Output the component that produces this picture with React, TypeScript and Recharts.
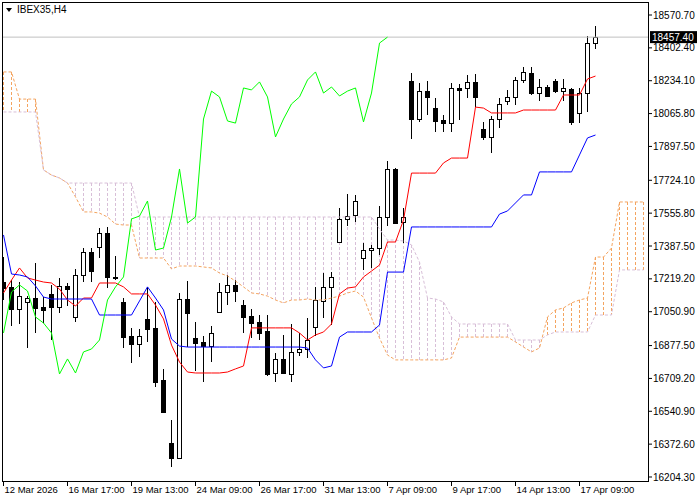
import { ComposedChart, Bar, Line, XAxis, YAxis, ReferenceLine } from 'recharts';

const FONT = '"Liberation Sans", Arial, sans-serif';
const SANDY = '#F4A460';
const THISTLE = '#D8BFD8';

// x axis labels, one every 8 bars
const dateLabels = [
  '12 Mar 2026', '16 Mar 17:00', '19 Mar 13:00', '24 Mar 09:00', '26 Mar 17:00',
  '31 Mar 13:00', '7 Apr 09:00', '9 Apr 17:00', '14 Apr 13:00', '17 Apr 09:00',
];
const dateTicks = [0, 8, 16, 24, 32, 40, 48, 56, 64, 72];

const priceTicks = [
  18570.7, 18402.4, 18234.1, 18065.8, 17897.5, 17724.1, 17555.8, 17387.5,
  17219.2, 17050.9, 16877.5, 16709.2, 16540.9, 16372.6, 16204.3,
];
const lastPrice = 18457.4;

// H4 candles
const opens = [
  17203, 17178, 17065, 17101, 17121, 17075, 17142, 17075, 17183, 17024,
  17239, 17357, 17382, 17454, 17229, 17101, 16927, 16886, 17014, 16968,
  16701, 16378, 16302, 17116, 16916, 16896, 16875, 17049, 17152, 17188,
  17085, 17029, 16998, 16952, 16737, 16809, 16732, 16845, 16860, 16973,
  17106, 17178, 17408, 17526, 17546, 17326, 17367, 17377, 17536, 17782,
  17510, 18233, 18038, 18181, 18094, 18033, 18017, 18197, 18197, 18228,
  17987, 17946, 18038, 18130, 18151, 18238, 18274, 18171, 18202, 18233,
  18181, 18192, 18069, 18171, 18427,
];
const highs = [
  17331, 17213, 17203, 17131, 17300, 17126, 17188, 17224, 17198, 17270,
  17377, 17377, 17480, 17485, 17336, 17121, 16968, 16962, 17178, 17101,
  16758, 16496, 17147, 17208, 16998, 16927, 16978, 17198, 17239, 17213,
  17111, 17065, 17034, 17034, 16839, 16932, 16988, 16942, 17019, 17178,
  17249, 17254, 17582, 17654, 17649, 17403, 17393, 17592, 17823, 17787,
  17582, 18274, 18222, 18233, 18146, 18058, 18222, 18217, 18263, 18268,
  18023, 18053, 18146, 18187, 18253, 18304, 18304, 18243, 18212, 18243,
  18243, 18197, 18197, 18463, 18514,
];
const lows = [
  17111, 16978, 16988, 16865, 16942, 16993, 16906, 17044, 17080, 16998,
  17203, 17203, 17326, 17172, 17213, 16865, 16788, 16819, 16896, 16665,
  16532, 16256, 16296, 16870, 16747, 16691, 16793, 17049, 17085, 17101,
  16942, 16916, 16906, 16722, 16691, 16732, 16691, 16824, 16814, 16927,
  17019, 16983, 17408, 17490, 17510, 17265, 17275, 17341, 17490, 17505,
  17403, 17936, 18023, 18058, 17971, 17971, 17971, 18033, 18146, 18099,
  17930, 17864, 17992, 18110, 18110, 18222, 18161, 18130, 18151, 18171,
  18130, 18007, 18017, 18074, 18397,
];
const closes = [
  17172, 17065, 17131, 17121, 17070, 17060, 17075, 17183, 17167, 17239,
  17357, 17259, 17454, 17229, 17225, 16921, 16886, 16927, 16962, 16691,
  16537, 16302, 17116, 17044, 16891, 16875, 16942, 17152, 17188, 17157,
  17024, 16993, 16942, 16732, 16809, 16737, 16845, 16860, 16906, 17111,
  17178, 17229, 17526, 17541, 17618, 17367, 17377, 17536, 17782, 17505,
  17536, 18038, 18181, 18151, 18028, 18017, 18197, 18187, 18228, 18151,
  17946, 18038, 18115, 18151, 18238, 18279, 18171, 18202, 18156, 18181,
  18197, 18023, 18171, 18427, 18457.4,
];

// Ichimoku lines
const tenkan = [
  17147, 17213, 17275, 17224, 17213, 17203, 17198, 17167, 17111, 17080,
  17121, 17121, 17198, 17198, 17198, 17178, 17142, 17142, 17142, 17085,
  17014, 16880, 16793, 16742, 16737, 16737, 16737, 16737, 16742, 16758,
  16773, 16968, 16968, 16968, 16968, 16968, 16968, 16942, 16906, 16932,
  16947, 16988, 17142, 17172, 17178, 17229, 17259, 17290, 17408, 17408,
  17521, 17761, 17761, 17761, 17761, 17813, 17838, 17838, 17838, 18099,
  18094, 18069, 18069, 18069, 18069, 18084, 18084, 18084, 18084, 18084,
  18161, 18161, 18161, 18243, 18258,
];
const kijun = [
  17444, 17244, 17239, 17229, 17183, 17126, 17116, 17116, 17116, 17116,
  17116, 17116, 17034, 17034, 17034, 17034, 17034, 17106, 17178, 17121,
  17060, 16911, 16875, 16870, 16870, 16870, 16870, 16870, 16870, 16870,
  16870, 16870, 16870, 16870, 16870, 16870, 16870, 16870, 16865, 16804,
  16763, 16773, 16921, 16947, 16947, 16947, 16947, 16983, 17254, 17254,
  17254, 17485, 17485, 17485, 17485, 17485, 17485, 17485, 17485, 17485,
  17485, 17485, 17551, 17567, 17608, 17649, 17649, 17767, 17767, 17767,
  17767, 17767, 17854, 17941, 17956,
];
const spanA = [
  18279, 18279, 18140, 18140, 18140, 17777, 17751, 17736, 17710, 17639,
  17562, 17562, 17556, 17536, 17500, 17495, 17495, 17326, 17326, 17326,
  17326, 17270, 17285, 17285, 17285, 17280, 17275, 17249, 17234, 17208,
  17178, 17147, 17142, 17131, 17111, 17096, 17111, 17111, 17116, 17111,
  17111, 17121, 17131, 17147, 17157, 17126, 17019, 16916, 16829, 16804,
  16804, 16804, 16804, 16804, 16804, 16804, 16814, 16921, 16921, 16921,
  16921, 16921, 16921, 16921, 16896, 16870, 16845, 16865, 17024, 17060,
  17070, 17096, 17111, 17121, 17331, 17331, 17377, 17613, 17613, 17613,
  17613,
];
const spanB = [
  18074, 18074, 18074, 18074, 18074, 17777, 17751, 17736, 17710, 17710,
  17710, 17710, 17710, 17710, 17710, 17710, 17710, 17536, 17536, 17536,
  17536, 17536, 17536, 17536, 17536, 17536, 17536, 17536, 17536, 17536,
  17536, 17536, 17536, 17536, 17536, 17536, 17536, 17536, 17536, 17536,
  17536, 17536, 17536, 17536, 17536, 17536, 17536, 17475, 17418, 17418,
  17413, 17393, 17305, 17121, 17116, 17101, 17024, 16988, 16988, 16988,
  16988, 16988, 16988, 16988, 16906, 16906, 16906, 16906, 16932, 16947,
  16947, 16947, 16947, 16947, 17034, 17034, 17034, 17265, 17265, 17265,
  17265,
];

const rows = spanA.map((a, i) => ({
  i,
  o: opens[i],
  h: highs[i],
  l: lows[i],
  c: closes[i],
  candle: i < closes.length ? [lows[i], highs[i]] : undefined,
  tenkan: tenkan[i],
  kijun: kijun[i],
  chikou: closes[i + 26], // lagging span = close moved back 26 bars
  spanA: a,
  spanB: spanB[i],
  cloud: [Math.min(a, spanB[i]), Math.max(a, spanB[i])],
}));

function Candle(props: any) {
  const { x, y, width, height, payload } = props;
  if (payload.c === undefined) return null;
  const cx = x + width / 2;
  const { o, h, l, c } = payload;
  const py = (p: number) => (h === l ? y : y + ((h - p) / (h - l)) * height);
  const top = Math.round(py(Math.max(o, c))) + 0.5;
  const bot = Math.round(py(Math.min(o, c))) + 0.5;
  return (
    <g shapeRendering="crispEdges">
      <line x1={cx} x2={cx} y1={y} y2={y + height} stroke="#000" />
      {bot - top < 1 ? (
        <line x1={cx - 2.5} x2={cx + 2.5} y1={top} y2={top} stroke="#000" />
      ) : (
        <rect x={cx - 2} y={top} width={4} height={bot - top} fill={c >= o ? '#fff' : '#000'} stroke="#000" />
      )}
    </g>
  );
}

function Hatch(props: any) {
  const { x, y, width, height, payload } = props;
  if (!height || height < 1) return null;
  const cx = x + width / 2;
  return (
    <line
      x1={cx}
      x2={cx}
      y1={y}
      y2={y + height}
      stroke={payload.spanA >= payload.spanB ? SANDY : THISTLE}
      strokeDasharray="3 2"
      shapeRendering="crispEdges"
    />
  );
}

function DateTick({ x, y, payload }: any) {
  return (
    <text x={x + 1} y={y + 5} fontSize={9.5} fontFamily={FONT} fill="#000" textAnchor="start">
      {dateLabels[dateTicks.indexOf(payload.value)]}
    </text>
  );
}

function PriceTag({ viewBox }: any) {
  const y = viewBox.y;
  return (
    <g>
      <rect x={650} y={y - 6} width={47} height={12} fill="#000" />
      <text x={652} y={y + 4} fontSize={10} fontFamily={FONT} fill="#fff">
        {lastPrice.toFixed(2)}
      </text>
    </g>
  );
}

const xDomain = [-0.1875, 80.5625];

export default function App() {
  return (
    <div style={{ position: 'absolute', left: 0, top: 0, width: 700, height: 500, background: '#fff', fontFamily: FONT }}>
      <ComposedChart width={700} height={500} data={rows} margin={{ top: 2, right: 0, bottom: 0, left: 2 }}>
        <XAxis
          type="number"
          dataKey="i"
          domain={xDomain}
          allowDataOverflow
          ticks={dateTicks}
          interval={0}
          height={19}
          tickSize={5}
          axisLine={false}
          tickLine={{ stroke: '#000' }}
          tick={<DateTick />}
        />
        <XAxis xAxisId="cloud" type="number" dataKey="i" domain={xDomain} allowDataOverflow hide />
        <YAxis
          orientation="right"
          type="number"
          domain={[16183.8, 18637.3]}
          allowDataOverflow
          ticks={priceTicks}
          interval={0}
          width={52}
          axisLine={false}
          tickSize={4}
          tickMargin={1}
          tickLine={{ stroke: '#000' }}
          tickFormatter={(v: number) => v.toFixed(2)}
          tick={{ fontSize: 10, fill: '#000', fontFamily: FONT }}
        />
        <ReferenceLine y={lastPrice} stroke="#c0c0c0" label={<PriceTag />} />
        <Bar xAxisId="cloud" dataKey="cloud" barSize={1} shape={<Hatch />} isAnimationActive={false} />
        <Bar dataKey="candle" barSize={5} shape={<Candle />} isAnimationActive={false} />
        <Line dataKey="spanA" stroke={SANDY} strokeDasharray="3 2" dot={false} isAnimationActive={false} />
        <Line dataKey="spanB" stroke={THISTLE} strokeDasharray="3 2" dot={false} isAnimationActive={false} />
        <Line dataKey="tenkan" stroke="#ff0000" dot={false} isAnimationActive={false} />
        <Line dataKey="kijun" stroke="#0000ff" dot={false} isAnimationActive={false} />
        <Line dataKey="chikou" stroke="#00ff00" dot={false} isAnimationActive={false} />
      </ComposedChart>
      <div
        style={{
          position: 'absolute',
          left: 2,
          top: 2,
          width: 647,
          height: 480,
          border: '1px solid #000',
          boxSizing: 'border-box',
          pointerEvents: 'none',
        }}
      />
      <div style={{ position: 'absolute', left: 6, top: 4, display: 'flex', alignItems: 'center', gap: 5, fontSize: 10, lineHeight: '12px' }}>
        <div style={{ width: 0, height: 0, borderLeft: '3.5px solid transparent', borderRight: '3.5px solid transparent', borderTop: '4px solid #000' }} />
        <span>IBEX35,H4</span>
      </div>
    </div>
  );
}
